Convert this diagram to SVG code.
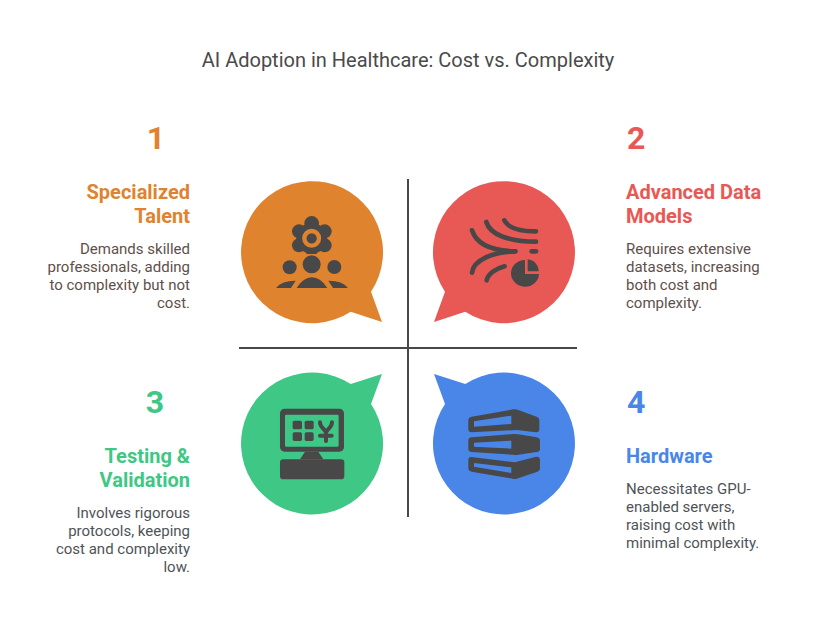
<svg xmlns="http://www.w3.org/2000/svg" width="816" height="624" viewBox="0 0 816 624">
<style>
text{font-family:Roboto,"Liberation Sans",sans-serif}
.t{font-size:20px;fill:#4a4a4a}
.n{font-size:32px;font-weight:700}
.h{font-size:20px;font-weight:700}
.b{font-size:15px;fill:#5f4f4a}
.b2{font-size:15px;fill:#4f5358}
.r{text-anchor:end}
.ic{fill:#484848}
.st{fill:none;stroke:#484848;stroke-width:14;stroke-linecap:round}
.ax{stroke:#484848;stroke-width:2;fill:none}
</style>
<rect width="816" height="624" fill="#fff"/>
<text class="t" x="408" y="67" text-anchor="middle">AI Adoption in Healthcare: Cost vs. Complexity</text>
<g id="connectors"><path class="ax" d="M408 179V517M239 348H577"/></g>
<g id="node1">
<path fill="#df832f" d="M382 322L350.700 311.700A71 71 0 1 1 371 291.700Z"/>
<g transform="translate(230 170) scale(.3333)">
<g class="ic"><circle cx="245" cy="160" r="22"/><circle cx="207" cy="184" r="21"/><circle cx="284" cy="184" r="21"/><circle cx="207" cy="226" r="21"/><circle cx="284" cy="226" r="21"/><circle cx="245" cy="205" r="46"/><path d="M225 240h40l-5 12h-30z"/></g>
<circle cx="245" cy="205" r="22" fill="none" stroke="#df832f" stroke-width="13"/>
<g class="ic"><circle cx="179" cy="292" r="21"/><circle cx="245" cy="283" r="27"/><circle cx="313" cy="291" r="21"/><path d="M200 354Q220 322 246 322Q272 322 292 354Z"/><path d="M138 354Q155 332 197 332L183 354Z"/><path d="M354 354Q338 332 295 332L309 354Z"/></g>
</g>
<text class="n r" x="165" y="149" fill="#df832f">1</text>
<text class="h r" x="190" y="199" fill="#df832f">Specialized</text>
<text class="h r" x="190" y="223" fill="#df832f">Talent</text>
<text class="b r" x="190" y="254">Demands skilled</text>
<text class="b r" x="190" y="272">professionals, adding</text>
<text class="b r" x="190" y="290">to complexity but not</text>
<text class="b r" x="190" y="308">cost.</text>
</g>
<g id="node2">
<path fill="#e85854" d="M434 322L465.300 311.700A71 71 0 1 0 445 291.700Z"/>
<g transform="translate(410 170) scale(.3333)">
<path class="st" d="M283 151C295 175 330 184 378 184"/>
<path class="st" d="M229 156C240 195 300 215 378 215"/>
<path class="st" d="M186 181C200 225 250 243 316 244"/>
<path class="st" d="M186 308C190 270 250 245 316 244"/>
<path class="st" d="M365 244H378"/>
<path class="st" d="M230 331C235 310 260 295 284 289"/>
<path class="ic" d="M345 270V312H387A42 40 0 1 1 345 270Z"/>
<path class="ic" d="M353 268A36 36 0 0 1 386 304H353Z"/>
</g>
<text class="n" x="627" y="149" fill="#e85854">2</text>
<text class="h" x="626" y="199" fill="#e85854">Advanced Data</text>
<text class="h" x="626" y="223" fill="#e85854">Models</text>
<text class="b" x="626" y="254">Requires extensive</text>
<text class="b" x="626" y="272">datasets, increasing</text>
<text class="b" x="626" y="290">both cost and</text>
<text class="b" x="626" y="308">complexity.</text>
</g>
<g id="node3">
<path fill="#3ec785" d="M382 374L350.700 384A71 71 0 1 0 371 404Z"/>
<g transform="translate(230 350) scale(.3333)">
<rect class="ic" x="150" y="176" width="192" height="129" rx="14"/>
<rect x="165" y="194" width="161" height="96" rx="4" fill="#3ec785"/>
<g class="ic"><rect x="188" y="212" width="28" height="26" rx="5"/><rect x="224" y="212" width="27" height="26" rx="5"/><rect x="188" y="247" width="28" height="26" rx="5"/><rect x="224" y="247" width="27" height="26" rx="5"/>
<path d="M225 305H265L280 328H210Z"/><rect x="150" y="328" width="193" height="60" rx="10"/></g>
<path d="M270 217C270 236 288 236 288 250C288 236 306 236 306 217M288 250V273M270 257H305" fill="none" stroke="#484848" stroke-width="12" stroke-linecap="round"/>
</g>
<text class="n r" x="164" y="413" fill="#3ec785">3</text>
<text class="h r" x="190" y="463" fill="#3ec785">Testing &amp;</text>
<text class="h r" x="190" y="487" fill="#3ec785">Validation</text>
<text class="b2 r" x="190" y="518">Involves rigorous</text>
<text class="b2 r" x="190" y="536">protocols, keeping</text>
<text class="b2 r" x="190" y="554">cost and complexity</text>
<text class="b2 r" x="190" y="572">low.</text>
</g>
<g id="node4">
<path fill="#4a86e8" d="M434 374L465.300 384A71 71 0 1 1 445 404Z"/>
<g transform="translate(410 350) scale(.3333)">
<path class="ic" d="M175 210Q175 202 185 200L310 178Q318 177 325 180L380 200Q388 203 388 210V238Q388 248 378 247L320 240L185 247Q175 247 175 238Z"/>
<path class="ic" d="M175 272Q175 263 185 262L310 252Q318 252 325 253L380 262Q390 264 390 272V297Q390 305 380 306L320 315L185 306Q175 305 175 297Z"/>
<path class="ic" d="M175 330Q175 320 185 321L315 337L378 320Q390 319 390 330V355Q390 363 380 366L320 386Q314 388 308 386L185 365Q175 363 175 355Z"/>
<g fill="#4a86e8"><path d="M192 214L304 197V222L192 230Z"/><path d="M192 278L304 272V296L192 290Z"/><path d="M192 339L304 352V369L192 350Z"/></g>
</g>
<text class="n" x="627" y="413" fill="#4a86e8">4</text>
<text class="h" x="626" y="463" fill="#4a86e8">Hardware</text>
<text class="b2" x="626" y="494">Necessitates GPU-</text>
<text class="b2" x="626" y="512">enabled servers,</text>
<text class="b2" x="626" y="530">raising cost with</text>
<text class="b2" x="626" y="548">minimal complexity.</text>
</g>
</svg>
